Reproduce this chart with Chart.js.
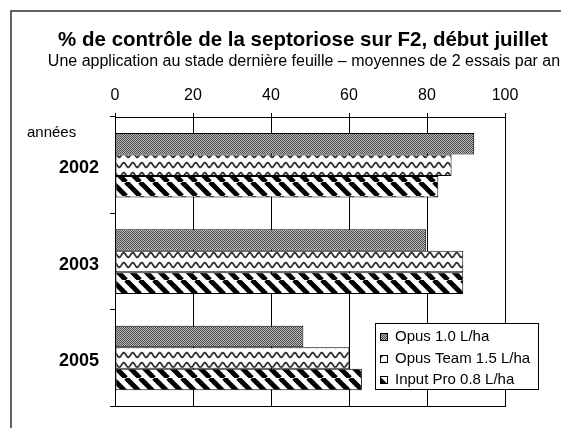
<!DOCTYPE html>
<html>
<head>
<meta charset="utf-8">
<script src="https://cdn.jsdelivr.net/npm/chart.js@4"></script>
<style>
  html, body { margin: 0; padding: 0; background: #fff; overflow: hidden; }
</style>
</head>
<body>
<canvas id="septoChart" width="561" height="428"></canvas>
<script>
// données
const years = ['2002', '2003', '2005'];
const seriesNames = ['Opus 1.0 L/ha', 'Opus Team 1.5 L/ha', 'Input Pro 0.8 L/ha'];
const opus = [92.1, 79.8, 48.3];
const opusTeam = [86.3, 89.3, 60.1];
const inputPro = [82.9, 89.3, 63.3];
const xMin = 0, xMax = 100, xStep = 20;

const titleText = '% de contrôle de la septoriose sur F2, début juillet';
const subtitleText = 'Une application au stade dernière feuille \u2013 moyennes de 2 essais par an';
const yAxisText = 'années';

const FONT = '"Liberation Sans", Arial, sans-serif';
Chart.defaults.font.family = FONT;
Chart.defaults.color = '#000';

// motifs de remplissage
function dotPattern() {
    const c = document.createElement('canvas');
    c.width = 2; c.height = 2;
    const g = c.getContext('2d');
    g.fillStyle = '#bdbdbd';
    g.fillRect(0, 0, 2, 2);
    g.fillStyle = '#4a4a4a';
    g.fillRect(0, 0, 1, 1);
    g.fillRect(1, 1, 1, 1);
    return g.createPattern(c, 'repeat');
}

function wavePattern() {
    const c = document.createElement('canvas');
    c.width = 9; c.height = 10;
    const g = c.getContext('2d');
    g.fillStyle = '#fff';
    g.fillRect(0, 0, 9, 10);
    g.strokeStyle = '#333';
    g.lineWidth = 1.8;
    g.beginPath();
    for (let x = -1; x <= 10; x += 0.5) {
        const y = 5 + 2.3 * Math.sin(2 * Math.PI * x / 9);
        if (x === -1) g.moveTo(x, y); else g.lineTo(x, y);
    }
    g.stroke();
    return g.createPattern(c, 'repeat');
}

function stripePattern() {
    const c = document.createElement('canvas');
    c.width = 14; c.height = 14;
    const g = c.getContext('2d');
    g.fillStyle = '#fff';
    g.fillRect(0, 0, 14, 14);
    g.strokeStyle = '#000';
    g.lineWidth = 5;
    [-14, 0, 14].forEach(function(k) {
        g.beginPath();
        g.moveTo(k, 0);
        g.lineTo(k + 14, 14);
        g.stroke();
    });
    return g.createPattern(c, 'repeat');
}

const fills = [dotPattern(), wavePattern(), stripePattern()];

// cadre, titres et légende
const decorPlugin = {
    id: 'decor',
    beforeDraw(chart) {
        const ctx = chart.ctx;
        ctx.save();
        ctx.fillStyle = '#fff';
        ctx.fillRect(0, 0, chart.width, chart.height);
        ctx.strokeStyle = '#333';
        ctx.lineWidth = 1.5;
        ctx.strokeRect(11, 11, 700, 700);
        ctx.restore();
    },
    afterDraw(chart) {
        const ctx = chart.ctx;
        ctx.save();
        ctx.fillStyle = '#000';
        ctx.textAlign = 'center';
        ctx.textBaseline = 'alphabetic';
        ctx.font = 'bold 20.5px ' + FONT;
        ctx.fillText(titleText, 303, 46);
        ctx.font = '16px ' + FONT;
        ctx.fillText(subtitleText, 304, 66);
        ctx.textAlign = 'left';
        ctx.font = '15px ' + FONT;
        ctx.fillText(yAxisText, 27, 137);

        // légende
        const bx = 375.5, by = 323.5, bw = 163, bh = 66;
        ctx.fillStyle = '#fff';
        ctx.fillRect(bx, by, bw, bh);
        ctx.strokeStyle = '#000';
        ctx.lineWidth = 1;
        ctx.strokeRect(bx, by, bw, bh);
        ctx.textBaseline = 'middle';
        chart.data.datasets.forEach(function(ds, i) {
            const cy = 337 + i * 21.5;
            ctx.fillStyle = ds.backgroundColor;
            ctx.fillRect(380, Math.round(cy) - 4, 8, 8);
            ctx.strokeRect(380.5, Math.round(cy) - 3.5, 7, 7);
            ctx.fillStyle = '#000';
            ctx.fillText(ds.label, 395, cy);
        });
        ctx.restore();
    }
};

const ctx = document.getElementById('septoChart').getContext('2d');
new Chart(ctx, {
    type: 'bar',
    data: {
        labels: years,
        datasets: [
            { label: seriesNames[0], data: opus, backgroundColor: fills[0] },
            { label: seriesNames[1], data: opusTeam, backgroundColor: fills[1] },
            { label: seriesNames[2], data: inputPro, backgroundColor: fills[2] }
        ]
    },
    options: {
        indexAxis: 'y',
        responsive: false,
        animation: false,
        datasets: {
            bar: {
                categoryPercentage: 0.67,
                barPercentage: 1.0,
                borderColor: '#000',
                borderWidth: 1,
                borderSkipped: false
            }
        },
        layout: { padding: { left: 0, top: 87, right: 56, bottom: 17 } },
        scales: {
            x: {
                type: 'linear',
                position: 'top',
                min: xMin,
                max: xMax,
                ticks: { stepSize: xStep, padding: 8, color: '#000', font: { size: 16 } },
                grid: { color: '#000', tickLength: 4, lineWidth: 1 },
                border: { color: '#000' },
                afterFit(scale) { scale.height = 30; }
            },
            x2: {
                type: 'linear',
                position: 'bottom',
                min: xMin,
                max: xMax,
                ticks: { display: false },
                grid: { display: false },
                border: { display: true, color: '#000' },
                afterFit(scale) { scale.height = 0; }
            },
            y: {
                type: 'category',
                offset: true,
                grid: { offset: true, drawOnChartArea: false, tickLength: 5, color: '#000' },
                border: { color: '#000' },
                ticks: { padding: 11, color: '#000', labelOffset: 3, font: { size: 18, weight: 'bold' } },
                afterFit(scale) { scale.width = 115; }
            }
        },
        plugins: {
            legend: { display: false },
            tooltip: { enabled: false }
        }
    },
    plugins: [decorPlugin]
});
</script>
</body>
</html>
